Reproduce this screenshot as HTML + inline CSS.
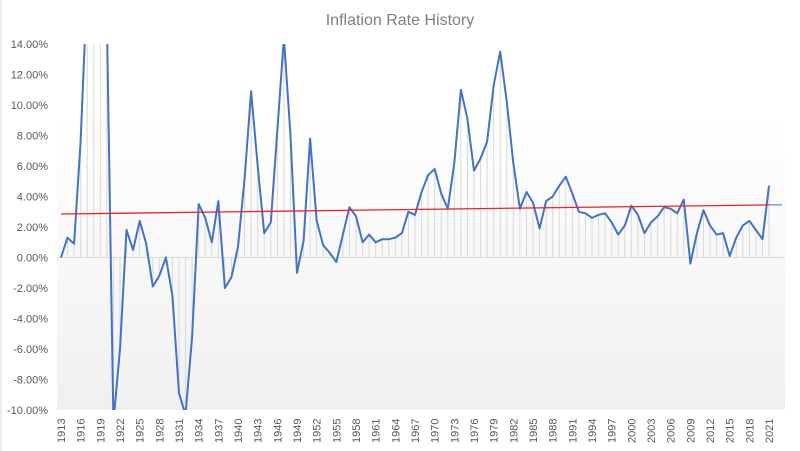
<!DOCTYPE html>
<html><head><meta charset="utf-8"><style>
html,body{margin:0;padding:0;background:#fff}
svg{display:block;font-family:"Liberation Sans",sans-serif}
</style></head><body>
<svg id="chart" width="800" height="451" viewBox="0 0 800 451">
<defs>
<linearGradient id="bg" x1="0" y1="0" x2="0" y2="1">
<stop offset="0" stop-color="#ffffff"/><stop offset="0.2" stop-color="#ffffff"/><stop offset="1" stop-color="#f0f0f0"/>
</linearGradient>
<clipPath id="clip"><rect x="57" y="44" width="730" height="366"/></clipPath>
</defs>
<line x1="1" y1="0" x2="1" y2="451" stroke="#d9d9d9"/>
<text x="400" y="25" text-anchor="middle" font-size="16" fill="#7f7f7f">Inflation Rate History</text>
<rect x="57" y="44" width="728" height="366" fill="url(#bg)"/>
<g id="drops" clip-path="url(#clip)"></g>
<g id="yaxis"></g>
<g id="xaxis"></g>
<g id="series" clip-path="url(#clip)"></g>
</svg>
<script>
const years = [];
for (let y = 1913; y <= 2021; y++) years.push(y);
const inflation = [0,1.3,0.9,7.6,18.0,20.4,14.5,15.6,-10.8,-6.0,1.8,0.5,2.4,0.9,-1.9,-1.2,0,-2.5,-8.9,-10.3,-5.2,3.5,2.6,1.0,3.7,-2.0,-1.3,0.7,5.1,10.9,6.0,1.6,2.3,8.3,14.4,8.1,-1.0,1.1,7.8,2.4,0.8,0.3,-0.3,1.5,3.3,2.7,1.0,1.5,1.0,1.2,1.2,1.3,1.6,3.0,2.8,4.3,5.4,5.8,4.2,3.2,6.2,11.0,9.1,5.7,6.5,7.6,11.3,13.5,10.2,6.2,3.2,4.3,3.6,1.9,3.7,4.0,4.7,5.3,4.2,3.0,2.9,2.6,2.8,2.9,2.3,1.5,2.1,3.4,2.8,1.6,2.3,2.7,3.3,3.2,2.9,3.8,-0.4,1.6,3.1,2.1,1.5,1.6,0.1,1.3,2.1,2.4,1.8,1.2,4.7];
const trendStart = 2.85, trendEnd = 3.45;
const yTicks = [14,12,10,8,6,4,2,0,-2,-4,-6,-8,-10];
const NS='http://www.w3.org/2000/svg';
const plotLeft=57.7, step=6.556, plotTop=44, plotBottom=410, yMax=14, yMin=-10;
const xs = i => plotLeft + step*(i+0.5);
const ys = v => plotTop + (yMax - v)/(yMax - yMin)*(plotBottom - plotTop);
function mk(tag, attrs, parent){const e=document.createElementNS(NS,tag);for(const k in attrs)e.setAttribute(k,attrs[k]);parent.appendChild(e);return e;}
const drops=document.getElementById('drops'), yaxis=document.getElementById('yaxis'), xaxis=document.getElementById('xaxis'), series=document.getElementById('series');
inflation.forEach((v,i)=>{
  const l=mk('line',{x1:xs(i),x2:xs(i),y1:ys(0),y2:ys(v),stroke:'#d9d9d9','stroke-width':1},drops);
  
  
});
const zl=mk('line',{x1:57,x2:785,y1:ys(0),y2:ys(0),stroke:'#d9d9d9','stroke-width':1},drops);


yTicks.forEach(t=>{
  const tx=mk('text',{x:48,y:ys(t)+4,'text-anchor':'end','font-size':11,fill:'#595959'},yaxis);
  tx.textContent=t.toFixed(2)+'%';
  
  
});
years.forEach((yr,i)=>{
  if((yr-1913)%3!==0) return;
  const x=xs(i)+4, y=443;
  const tx=mk('text',{x:x,y:y,'font-size':11,fill:'#595959',transform:`rotate(-90 ${x} ${y})`},xaxis);
  tx.textContent=yr;
  
  
});
const pts=inflation.map((v,i)=>xs(i).toFixed(1)+','+ys(v).toFixed(1)).join(' ');
const pl=mk('polyline',{points:pts,fill:'none',stroke:'#4472c4','stroke-width':2,'stroke-linejoin':'round'},series);


const n=inflation.length-1;
const ext=mk('line',{x1:xs(n),x2:782,y1:ys(trendEnd),y2:ys(trendEnd),stroke:'#4472c4','stroke-width':1},series);


const tr=mk('line',{x1:xs(0),x2:xs(n),y1:ys(trendStart),y2:ys(trendEnd),stroke:'#e8252a','stroke-width':1.3},series);


</script>
</body></html>
